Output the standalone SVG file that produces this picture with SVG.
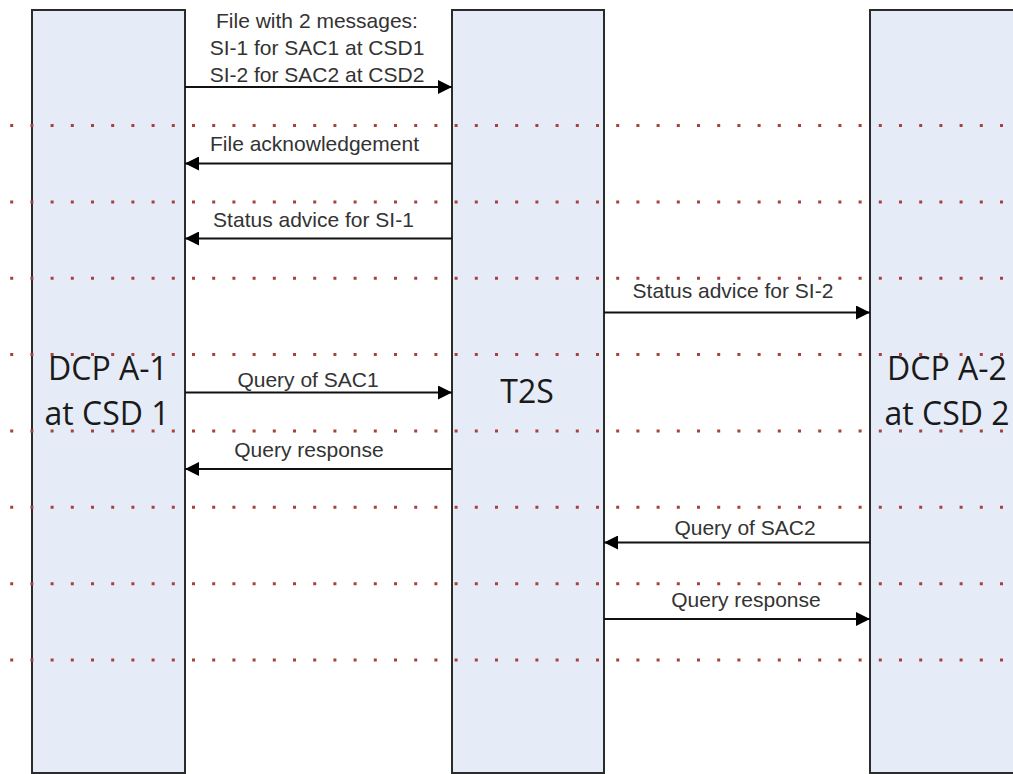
<svg xmlns="http://www.w3.org/2000/svg" width="1013" height="774" viewBox="0 0 1013 774">
<defs>
<style>
.box{fill:#e6ecf7;stroke:#2b2b2b;stroke-width:2}
.big{font-family:"Open Sans","Noto Sans",sans-serif;font-size:32px;fill:#1a1a1a;text-anchor:middle}
.lbl{font-family:"Liberation Sans",Arial,sans-serif;font-size:21px;fill:#333;text-anchor:middle}
.dot{stroke:#a8413b;stroke-width:3;stroke-dasharray:3 17.2;fill:none}
.msg{stroke:#111;stroke-width:2;fill:none}
</style>
<marker id="ah" viewBox="0 0 14 14" refX="14" refY="7" markerWidth="14" markerHeight="14" markerUnits="userSpaceOnUse" orient="auto">
<path d="M0,0 L14,7 L0,14 Z" fill="#000"/>
</marker>
</defs>
<rect width="1013" height="774" fill="#fff"/>
<g id="node-dcp-a1"><rect class="box" x="32" y="10" width="153" height="763"/></g>
<g id="node-t2s"><rect class="box" x="452" y="10" width="152" height="763"/></g>
<g id="node-dcp-a2"><rect class="box" x="870" y="10" width="160" height="763"/></g>
<g id="separators">
<line class="dot" x1="10.2" y1="125.5" x2="1013" y2="125.5"/>
<line class="dot" x1="10.2" y1="201.9" x2="1013" y2="201.9"/>
<line class="dot" x1="10.2" y1="278.2" x2="1013" y2="278.2"/>
<line class="dot" x1="10.2" y1="354.6" x2="1013" y2="354.6"/>
<line class="dot" x1="10.2" y1="430.9" x2="1013" y2="430.9"/>
<line class="dot" x1="10.2" y1="507.3" x2="1013" y2="507.3"/>
<line class="dot" x1="10.2" y1="583.7" x2="1013" y2="583.7"/>
<line class="dot" x1="10.2" y1="660" x2="1013" y2="660"/>
</g>
<g id="node-labels">
<text class="big" x="108" y="380">DCP A-1</text>
<text class="big" x="107" y="425">at CSD 1</text>
<text class="big" x="527" y="403">T2S</text>
<text class="big" x="947" y="380">DCP A-2</text>
<text class="big" x="947" y="425">at CSD 2</text>
</g>
<g id="connectors">
<line class="msg" x1="185" y1="87" x2="452" y2="87" marker-end="url(#ah)"/>
<line class="msg" x1="452" y1="163.5" x2="185" y2="163.5" marker-end="url(#ah)"/>
<line class="msg" x1="452" y1="238.5" x2="185" y2="238.5" marker-end="url(#ah)"/>
<line class="msg" x1="604" y1="312.5" x2="870" y2="312.5" marker-end="url(#ah)"/>
<line class="msg" x1="185" y1="392.5" x2="452" y2="392.5" marker-end="url(#ah)"/>
<line class="msg" x1="452" y1="469" x2="185" y2="469" marker-end="url(#ah)"/>
<line class="msg" x1="870" y1="542.5" x2="604" y2="542.5" marker-end="url(#ah)"/>
<line class="msg" x1="604" y1="619" x2="870" y2="619" marker-end="url(#ah)"/>
<text class="lbl" x="317" y="28">File with 2 messages:</text>
<text class="lbl" x="317" y="55">SI-1 for SAC1 at CSD1</text>
<text class="lbl" x="317" y="81.5">SI-2 for SAC2 at CSD2</text>
<text class="lbl" x="314.5" y="151">File acknowledgement</text>
<text class="lbl" x="313.5" y="227">Status advice for SI-1</text>
<text class="lbl" x="733" y="298">Status advice for SI-2</text>
<text class="lbl" x="308" y="386.5">Query of SAC1</text>
<text class="lbl" x="309" y="457">Query response</text>
<text class="lbl" x="745" y="535">Query of SAC2</text>
<text class="lbl" x="746" y="607">Query response</text>
</g>
</svg>
